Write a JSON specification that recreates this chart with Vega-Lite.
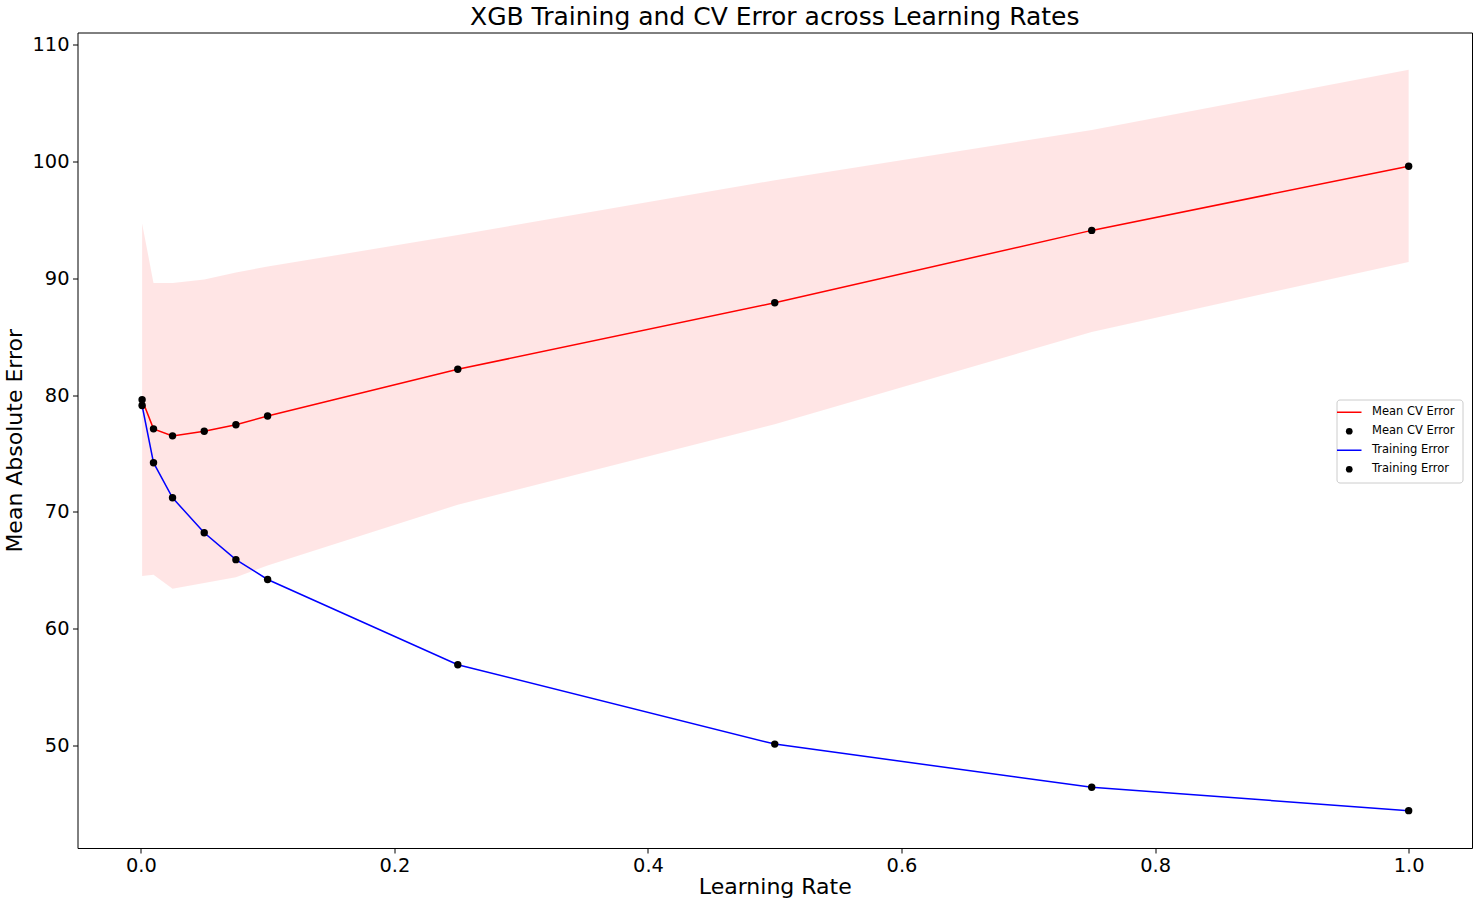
{
  "$schema": "https://vega.github.io/schema/vega-lite/v6.json",
  "autosize": {"type": "none"},
  "padding": {"left": 77.5, "top": 32.5, "right": 6, "bottom": 57},
  "width": 1394.5,
  "height": 815.5,
  "background": "white",
  "title": {
    "text": "XGB Training and CV Error across Learning Rates",
    "font": "DejaVu Sans",
    "fontSize": 25,
    "fontWeight": "normal",
    "color": "black",
    "anchor": "middle",
    "baseline": "alphabetic",
    "offset": 6,
    "dy": 23
  },
  "config": {
    "view": {"stroke": "black", "strokeWidth": 1},
    "font": "DejaVu Sans",
    "axis": {
      "grid": false,
      "domain": false,
      "tickColor": "black",
      "tickSize": 5,
      "tickWidth": 1,
      "labelColor": "black",
      "labelFont": "DejaVu Sans",
      "labelFontSize": 19.4,
      "labelPadding": 3.5,
      "titleFont": "DejaVu Sans",
      "titleFontSize": 22,
      "titleFontWeight": "normal",
      "titleColor": "black"
    }
  },
  "data": {
    "values": [
      {"lr": 0.001, "cv": 79.6, "cv_lo": 64.5, "cv_hi": 94.7, "train": 79.1},
      {"lr": 0.01, "cv": 77.1, "cv_lo": 64.6, "cv_hi": 89.6, "train": 74.2},
      {"lr": 0.025, "cv": 76.5, "cv_lo": 63.4, "cv_hi": 89.6, "train": 71.2},
      {"lr": 0.05, "cv": 76.9, "cv_lo": 63.9, "cv_hi": 89.9, "train": 68.2},
      {"lr": 0.075, "cv": 77.45, "cv_lo": 64.4, "cv_hi": 90.5, "train": 65.9},
      {"lr": 0.1, "cv": 78.2, "cv_lo": 65.4, "cv_hi": 91.0, "train": 64.2},
      {"lr": 0.25, "cv": 82.2, "cv_lo": 70.6, "cv_hi": 93.7, "train": 56.9},
      {"lr": 0.5, "cv": 87.9, "cv_lo": 77.5, "cv_hi": 98.4, "train": 50.1},
      {"lr": 0.75, "cv": 94.1, "cv_lo": 85.4, "cv_hi": 102.7, "train": 46.4},
      {"lr": 1.0, "cv": 99.6, "cv_lo": 91.4, "cv_hi": 107.85, "train": 44.4}
    ]
  },
  "encoding": {
    "x": {
      "field": "lr",
      "type": "quantitative",
      "scale": {"domain": [-0.04995, 1.04995], "nice": false, "zero": false},
      "axis": {"title": "Learning Rate", "values": [0, 0.2, 0.4, 0.6, 0.8, 1.0], "format": ".1f", "titlePadding": 2}
    }
  },
  "layer": [
    {
      "mark": {"type": "area", "color": "red", "opacity": 0.1},
      "encoding": {
        "y": {
          "field": "cv_lo",
          "type": "quantitative",
          "scale": {"domain": [41.2, 111.05], "nice": false, "zero": false},
          "axis": {"title": "Mean Absolute Error", "values": [50, 60, 70, 80, 90, 100, 110], "titlePadding": 5}
        },
        "y2": {"field": "cv_hi"}
      }
    },
    {
      "mark": {"type": "line", "strokeWidth": 1.5},
      "encoding": {
        "y": {"field": "cv", "type": "quantitative"},
        "color": {
          "datum": "cv_line",
          "scale": {
            "domain": ["cv_line", "cv_pt", "tr_line", "tr_pt"],
            "range": ["#ff0000", "#000000", "#0000ff", "#000000"]
          },
          "legend": {
            "title": null,
            "orient": "none",
            "legendX": 1259,
            "legendY": 367,
            "padding": 7,
            "rowPadding": 6,
            "fillColor": "white",
            "strokeColor": "#cccccc",
            "cornerRadius": 3,
            "symbolType": "stroke",
            "symbolSize": 600,
            "symbolStrokeWidth": 1.5,
            "labelFont": "DejaVu Sans",
            "labelFontSize": 11.5,
            "labelColor": "black",
            "labelOffset": 17,
            "labelExpr": "datum.value == 'cv_line' || datum.value == 'cv_pt' ? 'Mean CV Error' : 'Training Error'",
            "encode": {
              "symbols": {
                "update": {
                  "shape": {"signal": "datum.value == 'cv_line' || datum.value == 'tr_line' ? 'stroke' : 'circle'"},
                  "size": {"signal": "datum.value == 'cv_line' || datum.value == 'tr_line' ? 600 : 45"},
                  "fill": {"signal": "datum.value == 'cv_line' || datum.value == 'tr_line' ? 'transparent' : 'black'"},
                  "stroke": {"signal": "datum.value == 'cv_line' ? '#ff0000' : datum.value == 'tr_line' ? '#0000ff' : 'black'"},
                  "strokeWidth": {"signal": "datum.value == 'cv_line' || datum.value == 'tr_line' ? 1.5 : 0"},
                  "opacity": {"value": 1}
                }
              }
            }
          }
        }
      }
    },
    {
      "mark": {"type": "circle", "size": 55, "opacity": 1},
      "encoding": {
        "y": {"field": "cv", "type": "quantitative"},
        "color": {"datum": "cv_pt"}
      }
    },
    {
      "mark": {"type": "line", "strokeWidth": 1.5},
      "encoding": {
        "y": {"field": "train", "type": "quantitative"},
        "color": {"datum": "tr_line"}
      }
    },
    {
      "mark": {"type": "circle", "size": 55, "opacity": 1},
      "encoding": {
        "y": {"field": "train", "type": "quantitative"},
        "color": {"datum": "tr_pt"}
      }
    }
  ]
}
